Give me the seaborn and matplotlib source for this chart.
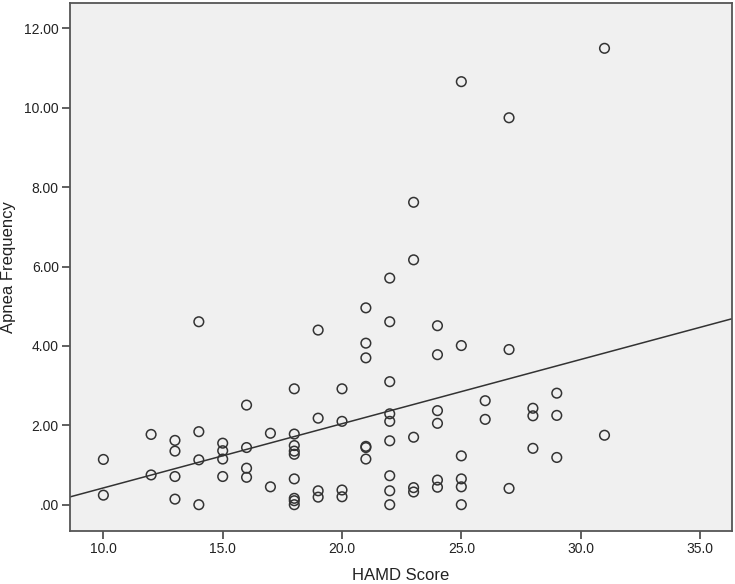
import matplotlib
matplotlib.use("Agg")
import matplotlib.pyplot as plt
import seaborn as sns
import pandas as pd

# ============================================================
# DATA
# ============================================================

hamd_score = (
    [10] * 2 + [12] * 2 + [13] * 4 + [14] * 4 + [15] * 4 + [16] * 4 + [17] * 2
    + [18] * 9 + [19] * 4 + [20] * 4 + [21] * 6 + [22] * 9 + [23] * 5
    + [24] * 6 + [25] * 6 + [26] * 2 + [27] * 3 + [28] * 3 + [29] * 3 + [31] * 2
)

apnea_freq = [
    1.14, 0.24,                                   # 10
    1.77, 0.75,                                   # 12
    1.62, 1.35, 0.71, 0.14,                       # 13
    4.61, 1.84, 1.13, 0.00,                       # 14
    1.55, 1.36, 1.15, 0.71,                       # 15
    2.51, 1.44, 0.92, 0.69,                       # 16
    1.80, 0.45,                                   # 17
    2.92, 1.78, 1.49, 1.35, 1.27, 0.65, 0.16, 0.10, 0.00,  # 18
    4.40, 2.18, 0.35, 0.19,                       # 19
    2.92, 2.10, 0.37, 0.20,                       # 20
    4.96, 4.07, 3.70, 1.47, 1.44, 1.15,           # 21
    5.71, 4.61, 3.10, 2.29, 2.10, 1.61, 0.73, 0.35, 0.00,  # 22
    7.62, 6.17, 1.70, 0.43, 0.32,                 # 23
    4.51, 3.78, 2.37, 2.05, 0.62, 0.44,           # 24
    10.66, 4.01, 1.23, 0.65, 0.45, 0.00,          # 25
    2.62, 2.15,                                   # 26
    9.75, 3.91, 0.41,                             # 27
    2.43, 2.24, 1.42,                             # 28
    2.81, 2.25, 1.19,                             # 29
    11.50, 1.75,                                  # 31
]

x_ticks = [10, 15, 20, 25, 30, 35]
x_tick_labels = ["10.0", "15.0", "20.0", "25.0", "30.0", "35.0"]
y_ticks = [0, 2, 4, 6, 8, 10, 12]
y_tick_labels = [".00", "2.00", "4.00", "6.00", "8.00", "10.00", "12.00"]

df = pd.DataFrame({"HAMD Score": hamd_score, "Apnea Frequency": apnea_freq})

# ============================================================
# STYLE
# ============================================================

sns.set_theme(style="ticks")
plt.rcParams["font.family"] = ["Liberation Sans", "DejaVu Sans"]

edge = "#333333"

fig = plt.figure(figsize=(7.35, 5.84), dpi=100)
ax = fig.add_axes([0.0952, 0.0913, 0.9003, 0.9041])
ax.set_facecolor("#f0f0f0")

ax.set_xlim(8.6, 36.33)
ax.set_ylim(-0.655, 12.65)

# ============================================================
# SCATTER + FIT LINE
# ============================================================

sns.scatterplot(data=df, x="HAMD Score", y="Apnea Frequency", ax=ax,
                color=edge, s=48, linewidth=1.1, marker="o")
pts = ax.collections[-1]
pts.set_facecolor("none")
pts.set_edgecolor(edge)

sns.regplot(data=df, x="HAMD Score", y="Apnea Frequency", ax=ax,
            scatter=False, ci=None, truncate=False,
            line_kws=dict(color=edge, linewidth=1.1))

ax.set_xlim(8.6, 36.33)
ax.set_ylim(-0.655, 12.65)

# ============================================================
# AXES
# ============================================================

ax.set_xticks(x_ticks)
ax.set_xticklabels(x_tick_labels)
ax.set_yticks(y_ticks)
ax.set_yticklabels(y_tick_labels)

ax.tick_params(axis="both", direction="out", length=6, width=1.2,
               color="#444444", labelsize=10, labelcolor="#222222", pad=2)

for side in ["left", "right", "top", "bottom"]:
    ax.spines[side].set_visible(True)
    ax.spines[side].set_color("#555555")
    ax.spines[side].set_linewidth(1.3)

ax.set_xlabel("HAMD Score", fontsize=12, color="#222222", labelpad=9)
ax.set_ylabel("Apnea Frequency", fontsize=12, color="#222222", labelpad=6)

fig.savefig("out.png", dpi=100, facecolor="white")
